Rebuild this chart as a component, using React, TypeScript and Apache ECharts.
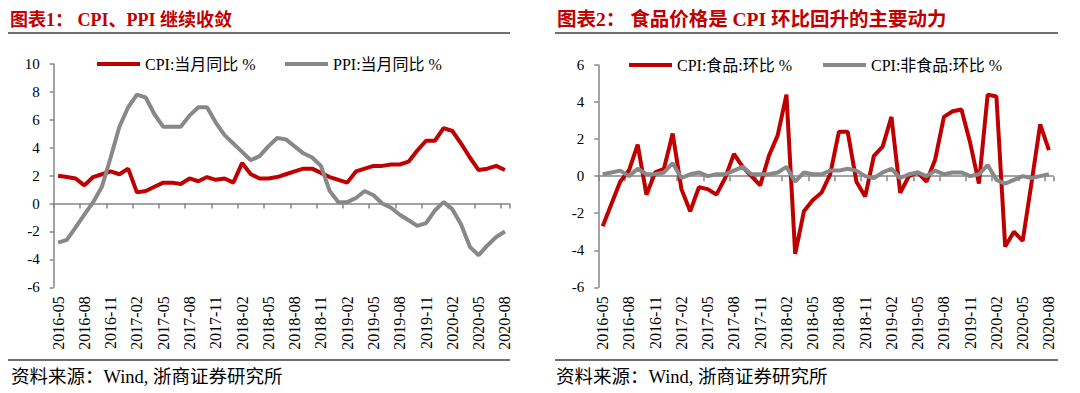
import React, { useEffect, useRef } from "react";
import * as echarts from "echarts";

const months = [
  "2016-05", "2016-06", "2016-07", "2016-08", "2016-09", "2016-10", "2016-11", "2016-12",
  "2017-01", "2017-02", "2017-03", "2017-04", "2017-05", "2017-06", "2017-07", "2017-08", "2017-09", "2017-10", "2017-11", "2017-12",
  "2018-01", "2018-02", "2018-03", "2018-04", "2018-05", "2018-06", "2018-07", "2018-08", "2018-09", "2018-10", "2018-11", "2018-12",
  "2019-01", "2019-02", "2019-03", "2019-04", "2019-05", "2019-06", "2019-07", "2019-08", "2019-09", "2019-10", "2019-11", "2019-12",
  "2020-01", "2020-02", "2020-03", "2020-04", "2020-05", "2020-06", "2020-07", "2020-08",
];

const cpiYoY = [
  2.0, 1.9, 1.8, 1.3, 1.9, 2.1, 2.3, 2.1,
  2.5, 0.8, 0.9, 1.2, 1.5, 1.5, 1.4, 1.8, 1.6, 1.9, 1.7, 1.8,
  1.5, 2.9, 2.1, 1.8, 1.8, 1.9, 2.1, 2.3, 2.5, 2.5, 2.2, 1.9,
  1.7, 1.5, 2.3, 2.5, 2.7, 2.7, 2.8, 2.8, 3.0, 3.8, 4.5, 4.5,
  5.4, 5.2, 4.3, 3.3, 2.4, 2.5, 2.7, 2.4,
];

const ppiYoY = [
  -2.8, -2.6, -1.7, -0.8, 0.1, 1.2, 3.3, 5.5,
  6.9, 7.8, 7.6, 6.4, 5.5, 5.5, 5.5, 6.3, 6.9, 6.9, 5.8, 4.9,
  4.3, 3.7, 3.1, 3.4, 4.1, 4.7, 4.6, 4.1, 3.6, 3.3, 2.7, 0.9,
  0.1, 0.1, 0.4, 0.9, 0.6, 0.0, -0.3, -0.8, -1.2, -1.6, -1.4, -0.5,
  0.1, -0.4, -1.5, -3.1, -3.7, -3.0, -2.4, -2.0,
];

const foodMoM = [
  -2.7, -1.5, -0.3, 0.3, 1.7, -1.0, 0.2, 0.4,
  2.3, -0.7, -1.9, -0.6, -0.7, -1.0, -0.1, 1.2, 0.5, 0.0, -0.5, 1.1,
  2.2, 4.4, -4.2, -1.9, -1.3, -0.9, 0.1, 2.4, 2.4, -0.3, -1.1, 1.1,
  1.6, 3.2, -0.9, 0.0, 0.2, -0.3, 0.9, 3.2, 3.5, 3.6, 1.8, -0.4,
  4.4, 4.3, -3.8, -3.0, -3.5, -0.4, 2.8, 1.4,
];

const nonFoodMoM = [
  0.1, 0.2, 0.3, 0.0, 0.4, 0.1, 0.1, 0.2,
  0.7, -0.1, 0.1, 0.2, 0.0, 0.1, 0.1, 0.3, 0.5, 0.1, 0.1, 0.1,
  0.2, 0.5, -0.3, 0.2, 0.1, 0.1, 0.3, 0.3, 0.4, 0.3, 0.0, -0.1,
  0.2, 0.4, -0.1, 0.1, 0.2, 0.0, 0.3, 0.1, 0.2, 0.2, 0.0, 0.1,
  0.6, -0.2, -0.4, -0.2, 0.0, -0.1, 0.0, 0.1,
];

const leftRange = { min: -6, max: 10, interval: 2 };
const rightRange = { min: -6, max: 6, interval: 2 };

const titles = ["图表1： CPI、PPI 继续收敛", "图表2： 食品价格是 CPI 环比回升的主要动力"];
const sourceText = "资料来源：Wind, 浙商证券研究所";
const seriesNames = ["CPI:当月同比 %", "PPI:当月同比 %", "CPI:食品:环比 %", "CPI:非食品:环比 %"];

const RED = "#C00000";
const GRAY = "#888888";
const AXIS = "#868686";
const RULE = "#404040";
const SERIF = "'Liberation Serif','Times New Roman','Noto Sans CJK SC',serif";

export default function App() {
  const ref = useRef<HTMLDivElement>(null);

  useEffect(() => {
    document.body.style.margin = "0";
    const chart = echarts.init(ref.current as HTMLDivElement, null, { renderer: "svg" });

    const grids = [
      { left: 53.7, top: 64, width: 455.6, height: 223.3 },
      { left: 598.3, top: 65, width: 455, height: 222.3 },
    ];
    const ranges = [leftRange, rightRange];

    const xAxis: any[] = [];
    const yAxis: any[] = [];
    grids.forEach((_, gi) => {
      xAxis.push({
        type: "category",
        gridIndex: gi,
        data: months,
        boundaryGap: true,
        position: "top",
        axisLine: { show: true, onZero: true, lineStyle: { color: AXIS, width: 1.5 } },
        axisTick: { show: true, inside: true, interval: 2, length: 5, lineStyle: { color: AXIS, width: 1.5 } },
        axisLabel: { show: false },
        splitLine: { show: false },
      });
      xAxis.push({
        type: "category",
        gridIndex: gi,
        data: months,
        boundaryGap: true,
        position: "bottom",
        axisLine: { show: false, onZero: false },
        axisTick: { show: false },
        axisLabel: { interval: 2, rotate: 90, margin: 9, fontSize: 16, color: "#000", fontFamily: SERIF },
        splitLine: { show: false },
      });
      yAxis.push({
        type: "value",
        gridIndex: gi,
        min: ranges[gi].min,
        max: ranges[gi].max,
        interval: ranges[gi].interval,
        axisLine: { show: true, lineStyle: { color: AXIS, width: 1.5 } },
        axisTick: { show: true, length: 4, lineStyle: { color: AXIS, width: 1.5 } },
        axisLabel: { fontSize: 15, color: "#000", margin: 14, fontFamily: SERIF },
        splitLine: { show: false },
      });
    });

    const mkSeries = (name: string, data: number[], color: string, gi: number) => ({
      name,
      type: "line",
      xAxisIndex: gi * 2,
      yAxisIndex: gi,
      data,
      symbol: "none",
      smooth: false,
      lineStyle: { color, width: 4 },
      itemStyle: { color },
    });

    const mkLegend = (name: string, left: number, top: number) => ({
      data: [name],
      left,
      top,
      padding: 0,
      icon: "rect",
      itemWidth: 43,
      itemHeight: 4,
      textStyle: { fontSize: 16, color: "#000", fontFamily: SERIF },
    });

    const titleStyle = { fontSize: 18, fontWeight: "bold", color: RED, fontFamily: SERIF };
    const titleStyle2 = { fontSize: 19.5, fontWeight: "bold", color: RED, fontFamily: SERIF };
    const srcStyle = { fontSize: 18.5, fontWeight: "normal", color: "#000", fontFamily: SERIF };

    chart.setOption({
      animation: false,
      backgroundColor: "#fff",
      title: [
        { text: titles[0], left: 10, top: 11, padding: 0, textStyle: titleStyle },
        { text: titles[1], left: 557, top: 10, padding: 0, textStyle: titleStyle2 },
        { text: sourceText, left: 11, top: 368, padding: 0, textStyle: srcStyle },
        { text: sourceText, left: 556, top: 368, padding: 0, textStyle: srcStyle },
      ],
      legend: [
        mkLegend(seriesNames[0], 97, 56),
        mkLegend(seriesNames[1], 285, 56),
        mkLegend(seriesNames[2], 629, 57),
        mkLegend(seriesNames[3], 823, 57),
      ],
      grid: grids,
      xAxis,
      yAxis,
      series: [
        mkSeries(seriesNames[0], cpiYoY, RED, 0),
        mkSeries(seriesNames[1], ppiYoY, GRAY, 0),
        mkSeries(seriesNames[2], foodMoM, RED, 1),
        mkSeries(seriesNames[3], nonFoodMoM, GRAY, 1),
      ],
      graphic: [
        { type: "line", shape: { x1: 8, y1: 33, x2: 510, y2: 33 }, style: { stroke: RULE, lineWidth: 1.5 } },
        { type: "line", shape: { x1: 555, y1: 33, x2: 1058, y2: 33 }, style: { stroke: RULE, lineWidth: 1.5 } },
        { type: "line", shape: { x1: 8, y1: 360, x2: 510, y2: 360 }, style: { stroke: RULE, lineWidth: 1.5 } },
        { type: "line", shape: { x1: 555, y1: 360, x2: 1058, y2: 360 }, style: { stroke: RULE, lineWidth: 1.5 } },
      ],
    });

    return () => chart.dispose();
  }, []);

  return (
    <div
      ref={ref}
      style={{ position: "fixed", left: 0, top: 0, width: 1080, height: 393, background: "#fff" }}
    />
  );
}
